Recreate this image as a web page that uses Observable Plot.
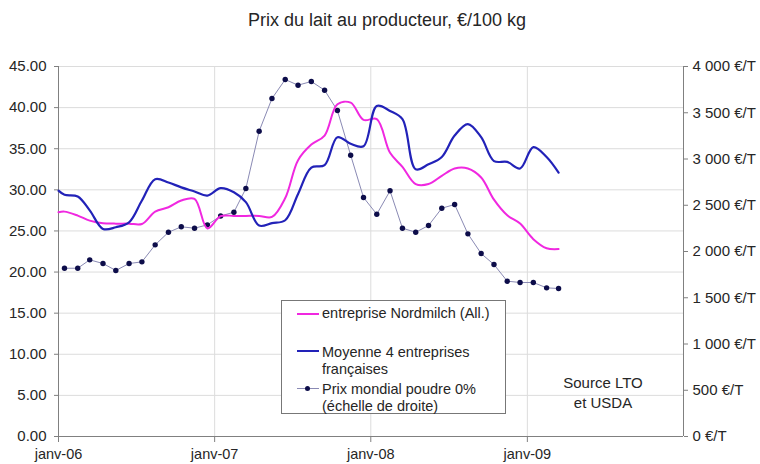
<!DOCTYPE html>
<html><head><meta charset="utf-8">
<script src="https://cdn.jsdelivr.net/npm/d3@7"></script>
<script src="https://cdn.jsdelivr.net/npm/@observablehq/plot@0.6"></script>
<style>
body{margin:0;background:#fff;font-family:"Liberation Sans",Arial,sans-serif;color:#262626;}
#wrap{position:relative;width:760px;height:464px;overflow:hidden;}
#title{height:40px;line-height:40px;font-size:18px;text-align:center;padding-left:14px;box-sizing:border-box;}
#legend{position:absolute;left:281px;top:300px;width:225px;height:114px;border:1px solid #777;background:#fff;box-sizing:border-box;}
.sw{position:absolute;left:15px;width:22px;height:0;}
.lt{position:absolute;left:40px;font-size:14.5px;line-height:17px;white-space:nowrap;}
.dot{position:absolute;left:8px;top:-3px;width:5px;height:5px;border-radius:50%;background:#0d0d4a;}
#source{position:absolute;left:553px;top:373px;width:100px;text-align:center;font-size:15px;line-height:20px;}
</style></head>
<body>
<div id="wrap">
<div id="title">Prix du lait au producteur, €/100 kg</div>
<div id="chart"></div>
<div id="legend">
  <div class="sw" style="top:12px;border-top:2px solid #f028e0;"></div>
  <div class="lt" style="top:4px;">entreprise Nordmilch (All.)</div>
  <div class="sw" style="top:49px;border-top:2px solid #2222b8;"></div>
  <div class="lt" style="top:43px;">Moyenne 4 entreprises<br>françaises</div>
  <div class="sw" style="top:87px;border-top:1px solid #8a8ab4;"><div class="dot"></div></div>
  <div class="lt" style="top:80px;">Prix mondial poudre 0%<br>(échelle de droite)</div>
</div>
<div id="source">Source LTO<br>et USDA</div>
</div>
<script>
// --- data ---
const seriesNames = ["entreprise Nordmilch (All.)", "Moyenne 4 entreprises françaises", "Prix mondial poudre 0% (échelle de droite)"];
// monthly values, Jan 2006 .. Mar 2009 (39 months); lines also have a starting value at 1 Jan 2006
const nordmilchStart = 27.27;
const nordmilch = [27.35, 26.87, 26.26, 25.93, 25.89, 25.89, 25.85, 27.35, 27.88, 28.7, 28.9, 25.3,
  26.8, 26.83, 26.83, 26.83, 26.7, 29.0, 33.6, 35.5, 36.6, 40.4, 40.6, 38.5,
  38.6, 34.5, 32.8, 30.7, 30.7, 31.7, 32.6, 32.6, 31.5, 28.8, 26.9, 25.9,
  24.0, 22.9, 22.8];
const moyenneStart = 29.9;
const moyenne = [29.4, 29.2, 27.5, 25.25, 25.45, 26.05, 28.7, 31.3, 30.9, 30.3, 29.8, 29.3,
  30.2, 29.7, 28.5, 25.65, 25.95, 26.3, 29.5, 32.7, 33.0, 36.4, 35.6, 35.3,
  40.2, 39.6, 38.6, 32.5, 33.1, 34.0, 36.6, 38.0, 36.4, 33.5, 33.4, 32.6,
  35.2, 34.0, 32.1];
const mondial = [1819, 1819, 1910, 1870, 1795, 1870, 1888, 2072, 2208, 2267, 2252, 2288,
  2384, 2425, 2681, 3300, 3654, 3859, 3798, 3838, 3744, 3524, 3041, 2584,
  2403, 2656, 2252, 2208, 2281, 2468, 2508, 2191, 1978, 1859, 1679, 1665,
  1665, 1607, 1600];
const leftTicks = [0, 5, 10, 15, 20, 25, 30, 35, 40, 45];
const rightTicks = [0, 500, 1000, 1500, 2000, 2500, 3000, 3500, 4000];
const xTickYears = [2006, 2007, 2008, 2009];
const xTickLabels = ["janv-06", "janv-07", "janv-08", "janv-09"];

// --- build ---
const start = new Date(Date.UTC(2006, 0, 1));
const end = new Date(Date.UTC(2010, 0, 1));
const months = d3.utcMonth.range(start, new Date(Date.UTC(2009, 3, 1))).map(d => d3.utcDay.offset(d, 14));
const K = 45 / 4000; // right scale -> left scale
const lineN = [{date: start, v: nordmilchStart}, ...months.map((d, i) => ({date: d, v: nordmilch[i]}))];
const lineM = [{date: start, v: moyenneStart}, ...months.map((d, i) => ({date: d, v: moyenne[i]}))];
const world = months.map((d, i) => ({date: d, v: mondial[i] * K}));
const xTicks = xTickYears.map(y => new Date(Date.UTC(y, 0, 1)));
const grid = "#dcdcdc", axisCol = "#808080", txt = "#262626";
const fmtR = v => d3.format(",")(v).replace(/,/g, " ") + " €/T";

const chart = Plot.plot({
  width: 760, height: 424,
  marginLeft: 58, marginRight: 77, marginTop: 26, marginBottom: 28,
  style: {fontFamily: "Liberation Sans, Arial, sans-serif", fontSize: "15px", background: "transparent", overflow: "visible"},
  x: {type: "utc", domain: [start, end], label: null},
  y: {domain: [0, 45], label: null},
  marks: [
    Plot.gridY(leftTicks.filter(v => v > 0), {stroke: grid, strokeOpacity: 1}),
    Plot.gridX(xTicks.slice(1), {stroke: grid, strokeOpacity: 1}),
    Plot.ruleY([0], {stroke: axisCol}),
    Plot.ruleX([start, end], {stroke: axisCol}),
    Plot.line(world, {x: "date", y: "v", stroke: "#8a8ab4", strokeWidth: 1}),
    Plot.dot(world, {x: "date", y: "v", r: 2.7, fill: "#0d0d4a", stroke: "none"}),
    Plot.line(lineN, {x: "date", y: "v", stroke: "#f028e0", strokeWidth: 2, curve: "catmull-rom"}),
    Plot.line(lineM, {x: "date", y: "v", stroke: "#2222b8", strokeWidth: 2.2, curve: "catmull-rom"}),
    Plot.axisY(leftTicks, {anchor: "left", label: null, tickFormat: d => d.toFixed(2), tickSize: 4, tickPadding: 8, stroke: axisCol, fill: txt, fontSize: 15}),
    Plot.axisY(rightTicks.map(v => v * K), {anchor: "right", label: null, tickFormat: d => fmtR(Math.round(d / K)), tickSize: 4, tickPadding: 5, stroke: axisCol, fill: txt, fontSize: 15}),
    Plot.axisX(xTicks, {anchor: "bottom", label: null, tickFormat: d => xTickLabels[xTickYears.indexOf(d.getUTCFullYear())], tickSize: 6, tickPadding: 6, stroke: axisCol, fill: txt, fontSize: 14.5})
  ]
});
document.getElementById("chart").appendChild(chart);
</script>
</body></html>
